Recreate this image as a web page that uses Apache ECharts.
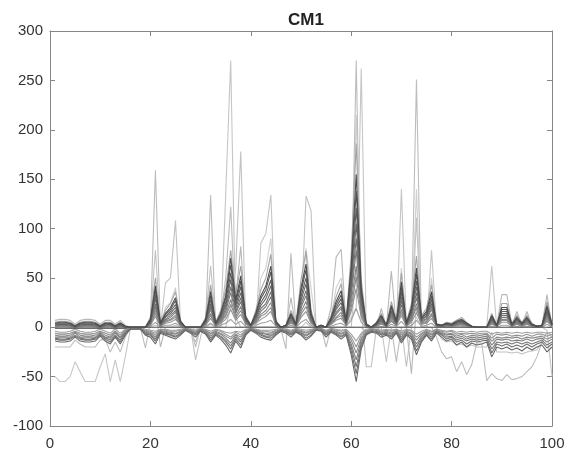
<!DOCTYPE html>
<html><head><meta charset="utf-8">
<script src="https://cdn.jsdelivr.net/npm/echarts@6/dist/echarts.min.js"></script>
<style>html,body{margin:0;padding:0;background:#fff}#c{width:568px;height:453px}</style>
</head><body><div id="c"></div>
<script>
const title = 'CM1';
const xTicks = [0, 20, 40, 60, 80, 100];
const yTicks = [-100, -50, 0, 50, 100, 150, 200, 250, 300];

// light outlier lines
const O1 = [-50,-55,-55,-50,-35,-45,-55,-55,-55,-40, -27,-55,-33,-55,-30,-2,0,0,0,0, 2,0,0,0,2,0,0,0,-2,0, 0,3,0,0,135,270,0,0,0,0, 0,85,95,134,0,0,0,0,0,0, 5,0,0,0,0,0,0,0,0,10, 20,262,0,0,0,0,-35,0,0,140, 0,0,10,0,0,78,0,0,0,0, 0,0,0,0,0,0,0,62,0,0, 0,0,0,0,0,0,0,0,-3,-50];
const O2 = [-20,-20,-20,-20,-13,-17,-20,-20,-20,-13, -12,-25,-15,-25,-10,0,0,0,-21,5, 159,0,0,0,0,0,0,0,-20,0, 5,134,0,10,50,122,10,0,0,0, 0,0,0,0,0,-2,-22,75,0,0, 0,0,0,0,-20,0,0,0,0,30, 270,10,0,0,0,0,0,0,-35,0, 0,10,251,0,0,0,-10,-25,-32,-30, -45,-35,-48,-38,-16,-16,-54,-47,-52,-54, -48,-53,-52,-50,-45,-40,-30,-15,-5,-10];
const O3 = [0,0,0,0,0,0,0,0,0,0, 0,0,0,0,0,0,0,0,0,10, 78,0,45,50,108,5,0,0,-33,-10, 10,62,5,0,0,20,60,178,0,0, 0,0,0,0,0,0,0,0,0,10, 133,118,0,0,0,0,0,0,0,0, 60,20,-40,-40,-2,0,0,0,0,0, -40,0,111,0,0,0,0,-12,-15,-14, -18,-17,-20,-18,-20,-20,-20,-5,-25,-25, -25,-26,-25,-27,-25,-24,-23,-15,-5,-8];
const O4 = [7,8,8,7,3,7,8,8,7,3, 7,7,3,7,2,0,0,0,0,0, 20,-20,0,0,0,0,0,-5,-15,0, 0,0,0,0,20,40,30,82,0,0, 0,0,0,0,0,0,0,30,0,0, 0,0,0,0,0,20,71,79,0,0, 0,0,-5,0,0,19,0,57,0,0, 0,-47,20,0,0,30,0,0,0,0, 5,8,3,0,0,0,0,5,2,33, 33,2,16,2,16,2,0,2,33,0];
const O5 = [-6,-7,-7,-6,-4,-6,-7,-7,-6,-4, -6,-8,-4,-8,-3,0,0,0,0,0, 30,0,20,25,40,0,0,0,0,0, 0,40,0,0,30,50,20,45,0,0, 0,50,60,90,0,0,0,0,0,20, 80,40,0,0,0,10,40,50,0,40, 215,30,0,0,0,0,0,0,0,60, 0,0,140,0,0,50,0,0,0,0, 0,0,0,0,0,0,0,0,0,20, 20,0,0,0,0,0,0,0,20,0];

// positive cluster lines
const P0 = [5,6,6,5,2,5,6,6,5,2,5,5,2,5,1, 0,0,0,0,10,50,5,17,24,36, 7,0,0,0,0,10,43,5,17,38, 78,34,62,12,2,17,38,50,74,7, 0,2,17,4,48,77,17,0,2,0, 12,31,44,7,74,186,48,4,0,5, 14,2,26,7,55,5,24,72,12,19, 43,4,2,5,4,7,10,5,1,0, 0,0,14,2,24,24,4,12,5,12, 4,1,2,26,4];
const P1 = [4,5,5,4,1,4,5,5,4,1,4,4,1,4,1, 0,0,0,0,8,42,4,14,20,30, 6,0,0,0,0,8,36,4,14,32, 70,28,52,10,2,14,32,42,62,6, 0,2,14,3,40,64,14,0,2,0, 10,26,37,6,62,155,40,3,0,4, 12,2,22,6,46,4,20,60,10,16, 36,3,2,4,3,6,8,4,1,0, 0,0,12,2,20,20,3,10,4,10, 3,1,2,22,3];
const Pa = [4,4,4,4,1,4,4,4,4,1,4,4,1,4,1, 0,0,0,0,7,38,4,13,18,27, 5,0,0,0,0,7,32,4,13,29, 63,25,47,9,2,13,29,38,56,5, 0,2,13,3,36,58,13,0,2,0, 9,23,33,5,56,138,36,3,0,4, 11,2,20,5,41,4,18,54,9,14, 32,3,2,4,3,5,7,4,1,0, 0,0,11,2,18,18,3,9,4,9, 3,1,2,20,3];
const P2 = [3,3,3,3,1,3,3,3,3,1,3,3,1,3,0, 0,0,0,0,6,33,3,11,16,23, 5,0,0,0,0,6,28,3,11,25, 55,22,41,8,2,11,25,33,48,5, 0,2,11,2,31,50,11,0,2,0, 8,20,29,5,48,121,31,2,0,3, 9,2,17,5,36,3,16,47,8,12, 28,2,2,3,2,5,6,3,1,0, 0,0,9,2,16,16,2,8,3,8, 2,1,2,17,2];
const Pb = [2,3,3,2,0,2,3,3,2,0,2,3,0,2,0, 0,0,0,0,5,29,3,10,14,20, 4,0,0,0,0,5,24,3,10,22, 48,19,35,7,1,10,22,29,42,4, 0,1,10,2,27,44,10,0,1,0, 7,18,25,4,42,105,27,2,0,3, 8,1,15,4,31,3,14,41,7,11, 24,2,1,3,2,4,5,3,1,0, 0,0,8,1,14,14,2,7,3,7, 2,1,1,15,2];
const P3 = [2,2,2,2,0,2,2,2,2,0,2,2,0,2,0, 0,0,0,0,5,24,2,8,12,17, 3,0,0,0,0,5,21,2,8,19, 41,16,30,6,1,8,19,24,36,3, 0,1,8,2,23,37,8,0,1,0, 6,15,21,3,36,90,23,2,0,2, 7,1,13,3,27,2,12,35,6,9, 21,2,1,2,2,3,5,2,1,0, 0,0,7,1,12,12,2,6,2,6, 2,1,1,13,2];
const Pc = [1,2,2,1,0,1,2,2,1,0,1,2,0,1,0, 0,0,0,0,4,21,2,7,10,15, 3,0,0,0,0,4,18,2,7,16, 35,14,26,5,1,7,16,21,31,3, 0,1,7,2,20,32,7,0,1,0, 5,13,19,3,31,78,20,2,0,2, 6,1,11,3,23,2,10,30,5,8, 18,2,1,2,2,3,4,2,1,0, 0,0,6,1,10,10,2,5,2,5, 2,1,1,11,2];
const P4 = [1,1,1,1,0,1,1,1,1,0,1,1,0,1,0, 0,0,0,0,3,17,2,6,8,12, 2,0,0,0,0,3,14,2,6,13, 28,11,21,4,1,6,13,17,25,2, 0,1,6,1,16,26,6,0,1,0, 4,10,15,2,25,62,16,1,0,2, 5,1,9,2,18,2,8,24,4,6, 14,1,1,2,1,2,3,2,0,0, 0,0,5,1,8,8,1,4,2,4, 1,0,1,9,1];
const Pd = [0,1,1,0,-1,0,1,1,0,-1,0,1,-1,0,0, 0,0,0,0,3,14,1,5,7,10, 2,0,0,0,0,3,12,1,5,11, 23,9,17,3,1,5,11,14,20,2, 0,1,5,1,13,21,5,0,1,0, 3,9,12,2,20,51,13,1,0,1, 4,1,7,2,15,1,7,20,3,5, 12,1,1,1,1,2,3,1,0,0, 0,0,4,1,7,7,1,3,1,3, 1,0,1,7,1];
const P5 = [0,0,0,0,-1,0,0,0,0,-1,0,0,-1,0,0, 0,0,0,0,2,11,1,4,5,8, 2,0,0,0,0,2,9,1,4,8, 18,7,13,3,1,4,8,11,16,2, 0,1,4,1,10,16,4,0,1,0, 3,7,9,2,16,39,10,1,0,1, 3,1,6,2,12,1,5,15,3,4, 9,1,1,1,1,2,2,1,0,0, 0,0,3,1,5,5,1,3,1,3, 1,0,1,6,1];
const P6 = [-1,-1,-1,-1,-2,-1,-1,-1,-1,-2,-1,-1,-2,-1,-1, 0,0,0,0,1,5,0,2,2,4, 1,0,0,0,0,1,4,0,2,4, 8,3,6,1,0,2,4,5,7,1, 0,0,2,0,5,8,2,0,0,0, 1,3,4,1,7,19,5,0,0,0, 1,0,3,1,6,0,2,7,1,2, 4,0,0,0,0,1,1,0,0,0, 0,0,1,0,2,2,0,1,0,1, 0,0,0,3,0];

// negative cluster lines
const N1 = [-14,-15,-15,-14,-10,-14,-15,-15,-14,-9,-14,-17,-10,-17,-8, -2,-2,-2,-8,-10,-17,-6,-8,-10,-12, -8,-3,-6,-10,-4,-7,-15,-8,-12,-18, -26,-14,-21,-8,-3,-6,-10,-12,-13,-8, -4,-6,-10,-5,-8,-13,-9,-3,-4,-10, -5,-8,-12,-8,-28,-55,-22,-8,-5,-6, -10,-8,-12,-6,-16,-8,-12,-28,-15,-8, -14,-6,-10,-14,-12,-18,-15,-20,-16,-18, -17,-15,-30,-20,-22,-20,-23,-21,-24,-20, -23,-20,-18,-25,-20];
const Na = [-12,-13,-13,-12,-9,-12,-13,-13,-12,-8,-12,-15,-9,-15,-7, -2,-2,-2,-7,-8,-14,-5,-7,-8,-10, -7,-3,-5,-8,-3,-6,-13,-7,-10,-15, -22,-12,-18,-7,-3,-5,-8,-10,-11,-7, -3,-5,-8,-4,-7,-11,-8,-3,-3,-8, -4,-7,-10,-7,-24,-47,-19,-7,-4,-5, -8,-7,-10,-5,-14,-7,-10,-24,-13,-7, -12,-5,-8,-12,-10,-15,-13,-17,-14,-15, -14,-13,-26,-17,-19,-17,-20,-18,-20,-17, -20,-17,-15,-21,-17];
const N2 = [-11,-12,-12,-11,-8,-11,-12,-12,-11,-7,-11,-13,-8,-13,-6, -1,-1,-1,-6,-7,-12,-4,-6,-7,-9, -6,-2,-4,-7,-3,-5,-11,-6,-9,-13, -19,-10,-15,-6,-2,-4,-7,-9,-9,-6, -3,-4,-7,-4,-6,-9,-6,-2,-3,-7, -4,-6,-9,-6,-20,-40,-16,-6,-4,-4, -7,-6,-9,-4,-12,-6,-9,-20,-11,-6, -10,-4,-7,-10,-9,-13,-11,-14,-12,-13, -12,-11,-22,-15,-16,-15,-17,-15,-17,-15, -17,-15,-13,-18,-15];
const Nb = [-10,-10,-10,-10,-6,-10,-10,-10,-10,-6,-10,-11,-6,-11,-5, -1,-1,-1,-5,-6,-10,-4,-5,-6,-7, -5,-2,-4,-6,-2,-4,-9,-5,-7,-11, -16,-8,-13,-5,-2,-4,-6,-7,-8,-5, -2,-4,-6,-3,-5,-8,-5,-2,-2,-6, -3,-5,-7,-5,-17,-33,-13,-5,-3,-4, -6,-5,-7,-4,-10,-5,-7,-17,-9,-5, -8,-4,-6,-8,-7,-11,-9,-12,-10,-11, -10,-9,-18,-12,-13,-12,-14,-13,-14,-12, -14,-12,-11,-15,-12];
const N3 = [-8,-9,-9,-8,-5,-8,-9,-9,-8,-5,-8,-10,-5,-10,-4, -1,-1,-1,-4,-5,-8,-3,-4,-5,-6, -4,-1,-3,-5,-2,-3,-7,-4,-6,-9, -12,-7,-10,-4,-1,-3,-5,-6,-6,-4, -2,-3,-5,-2,-4,-6,-4,-1,-2,-5, -2,-4,-6,-4,-13,-26,-11,-4,-2,-3, -5,-4,-6,-3,-8,-4,-6,-13,-7,-4, -7,-3,-5,-7,-6,-9,-7,-10,-8,-9, -8,-7,-14,-10,-11,-10,-11,-10,-12,-10, -11,-10,-9,-12,-10];
const Nc = [-6,-7,-7,-6,-4,-6,-7,-7,-6,-4,-6,-8,-4,-8,-3, -1,-1,-1,-3,-4,-6,-2,-3,-4,-4, -3,-1,-2,-4,-1,-3,-6,-3,-4,-7, -10,-5,-8,-3,-1,-2,-4,-4,-5,-3, -1,-2,-4,-2,-3,-5,-3,-1,-1,-4, -2,-3,-4,-3,-10,-20,-8,-3,-2,-2, -4,-3,-4,-2,-6,-3,-4,-10,-6,-3, -5,-2,-4,-5,-4,-7,-6,-7,-6,-7, -6,-6,-11,-7,-8,-7,-9,-8,-9,-7, -9,-7,-7,-9,-7];
const N4 = [-4,-5,-5,-4,-2,-4,-5,-5,-4,-2,-4,-6,-2,-6,-2, 0,0,0,-2,-3,-4,-2,-2,-3,-3, -2,-1,-2,-3,-1,-2,-4,-2,-3,-5, -6,-4,-5,-2,-1,-2,-3,-3,-3,-2, -1,-2,-3,-1,-2,-3,-2,-1,-1,-3, -1,-2,-3,-2,-7,-14,-6,-2,-1,-2, -3,-2,-3,-2,-4,-2,-3,-7,-4,-2, -4,-2,-3,-4,-3,-5,-4,-5,-4,-5, -4,-4,-7,-5,-6,-5,-6,-5,-6,-5, -6,-5,-5,-6,-5];
const Z = [-1,-1,-1,-1,-1,-1,-1,-1,-1,-1,-1,-1,-1,-1,-1, 0,0,0,0,0,0,0,0,0,0, 0,0,0,0,0,0,0,0,0,0, 0,0,0,0,0,0,0,0,0,0, 0,0,0,0,0,0,0,0,0,0, 0,0,0,0,0,0,0,0,0,0, 0,0,0,0,0,0,0,0,0,0, 0,0,0,0,0,0,0,0,0,0, 0,0,0,0,0,0,0,0,0,0, 0,0,0,0,0];

const lines = [
  [O5,'#d0d0d0'],[O4,'#b8b8b8'],[O3,'#c2c2c2'],[O2,'#bdbdbd'],[O1,'#c6c6c6'],
  [P0,'#a4a4a4'],[N4,'#a0a0a0'],[P6,'#a0a0a0'],[Nc,'#949494'],[P5,'#939393'],
  [N3,'#8a8a8a'],[Pd,'#8c8c8c'],[Nb,'#808080'],[P4,'#848484'],[N2,'#787878'],
  [Pc,'#7c7c7c'],[Na,'#707070'],[P3,'#727272'],[N1,'#686868'],[Pb,'#686868'],
  [P2,'#5f5f5f'],[Pa,'#565656'],[P1,'#4d4d4d'],[Z,'#555555']
];

const axisCol = '#868686';
const labelStyle = {color:'#333333', fontSize:15, fontFamily:'Liberation Sans, Arial, sans-serif'};
const chart = echarts.init(document.getElementById('c'), null, {renderer:'canvas'});
chart.setOption({
  animation:false,
  backgroundColor:'#fff',
  title:{text:title, left:301, top:7, textAlign:'center',
    textStyle:{fontSize:17, fontWeight:'bold', color:'#222', fontFamily:'Liberation Sans, Arial, sans-serif'}},
  grid:{left:50, right:16, top:31, bottom:27, containLabel:false},
  xAxis:[
    {type:'value', min:xTicks[0], max:xTicks[xTicks.length-1], interval:20, position:'bottom',
     axisLine:{onZero:false, lineStyle:{color:axisCol, width:1}},
     axisTick:{inside:true, length:5, lineStyle:{color:axisCol}},
     axisLabel:Object.assign({margin:10}, labelStyle), splitLine:{show:false}},
    {type:'value', min:xTicks[0], max:xTicks[xTicks.length-1], interval:20, position:'top',
     axisLine:{onZero:false, lineStyle:{color:axisCol, width:1}},
     axisTick:{inside:true, length:5, lineStyle:{color:axisCol}},
     axisLabel:{show:false}, splitLine:{show:false}}
  ],
  yAxis:[
    {type:'value', min:yTicks[0], max:yTicks[yTicks.length-1], interval:50, position:'left',
     axisLine:{show:true, onZero:false, lineStyle:{color:axisCol, width:1}},
     axisTick:{show:true, inside:true, length:5, lineStyle:{color:axisCol}},
     axisLabel:Object.assign({margin:7}, labelStyle), splitLine:{show:false}},
    {type:'value', min:yTicks[0], max:yTicks[yTicks.length-1], interval:50, position:'right',
     axisLine:{show:true, onZero:false, lineStyle:{color:axisCol, width:1}},
     axisTick:{show:true, inside:true, length:5, lineStyle:{color:axisCol}},
     axisLabel:{show:false}, splitLine:{show:false}}
  ],
  series: lines.map(([ys,col]) => ({
    type:'line', xAxisIndex:0, yAxisIndex:0, symbol:'none', silent:true,
    lineStyle:{color:col, width:1.1}, data: ys.map((v,i)=>[i+1, v])
  }))
});
</script></body></html>
